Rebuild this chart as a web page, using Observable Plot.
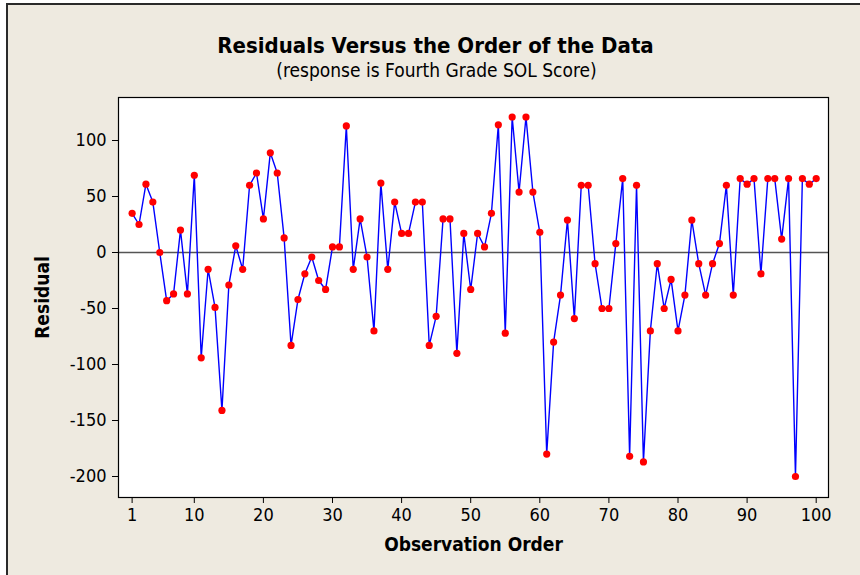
<!DOCTYPE html>
<html>
<head>
<meta charset="utf-8">
<script src="https://cdn.jsdelivr.net/npm/d3@7"></script>
<script src="https://cdn.jsdelivr.net/npm/@observablehq/plot@0.6"></script>
<style>
  html, body { margin: 0; padding: 0; background: #ffffff; }
  #wrap { position: relative; width: 860px; height: 575px; overflow: hidden; background: #ffffff; }
  #panel { position: absolute; left: 6px; top: 3px; width: 854px; height: 572px; background: #EEEAE0;
           border-top: 2px solid #2a2a2a; border-left: 2px solid #2a2a2a; box-sizing: border-box; }
  #chart { position: absolute; left: 0; top: 0; }
  #chart svg text { font-stretch: condensed; }
</style>
</head>
<body>
<div id="wrap"><div id="panel"></div><div id="chart"></div></div>
<script>
const titleText = "Residuals Versus the Order of the Data";
const subtitleText = "(response is Fourth Grade SOL Score)";
const xLabel = "Observation Order";
const yLabel = "Residual";
const xTicks = [1, 10, 20, 30, 40, 50, 60, 70, 80, 90, 100];
const yTicks = [-200, -150, -100, -50, 0, 50, 100];

// Residuals in observation order 1..100
const residuals = [
  35, 25, 61, 45, 0, -43, -37, 20, -37, 69,
  -94, -15, -49, -141, -29, 6, -15, 60, 71, 30,
  89, 71, 13, -83, -42, -19, -4, -25, -33, 5,
  5, 113, -15, 30, -4, -70, 62, -15, 45, 17,
  17, 45, 45, -83, -57, 30, 30, -90, 17, -33,
  17, 5, 35, 114, -72, 121, 54, 121, 54, 18,
  -180, -80, -38, 29, -59, 60, 60, -10, -50, -50,
  8, 66, -182, 60, -187, -70, -10, -50, -24, -70,
  -38, 29, -10, -38, -10, 8, 60, -38, 66, 61,
  66, -19, 66, 66, 12, 66, -200, 66, 61, 66
];
const order = residuals.map((_, i) => i + 1);
const data = order.map((o, i) => ({order: o, residual: residuals[i]}));

const font = "'DejaVu Sans Condensed', 'DejaVu Sans', sans-serif";
const fmt = d => String(d);

const chart = Plot.plot({
  width: 860,
  height: 575,
  marginLeft: 118,
  marginRight: 32,
  marginTop: 97,
  marginBottom: 78,
  style: { background: "transparent", fontFamily: font, color: "#000" },
  x: { domain: [-0.97, 101.78], ticks: xTicks },
  y: { domain: [-218.75, 138.4], ticks: yTicks },
  marks: [
    Plot.frame({ fill: "#ffffff" }),
    Plot.ruleY([0], { stroke: "#555", strokeWidth: 1.3 }),
    Plot.line(data, { x: "order", y: "residual", stroke: "#0000FF", strokeWidth: 1.4 }),
    Plot.dot(data, { x: "order", y: "residual", fill: "#FF0000", r: 3.6, stroke: "none" }),
    Plot.frame({ stroke: "#000", strokeWidth: 1.2 }),
    Plot.axisX({ ticks: xTicks, tickFormat: fmt, tickSize: 6, tickPadding: 5, fontSize: 18, label: null, stroke: "#000" }),
    Plot.axisY({ ticks: yTicks, tickFormat: fmt, tickSize: 6, tickPadding: 6, fontSize: 18, label: null, stroke: "#000" }),
    Plot.text([titleText], { frameAnchor: "top", lineAnchor: "middle", dx: -38, dy: -52, fontSize: 22, fontWeight: "bold", fill: "#000" }),
    Plot.text([subtitleText], { frameAnchor: "top", lineAnchor: "middle", dx: -37, dy: -27, fontSize: 19, fill: "#000" }),
    Plot.text([xLabel], { frameAnchor: "bottom", lineAnchor: "middle", dy: 47, fontSize: 19, fontWeight: "bold", fill: "#000" }),
    Plot.text([yLabel], { frameAnchor: "left", textAnchor: "middle", lineAnchor: "middle", dx: -76, rotate: -90, fontSize: 19, fontWeight: "bold", fill: "#000" })
  ]
});
document.getElementById("chart").appendChild(chart);
</script>
</body>
</html>
